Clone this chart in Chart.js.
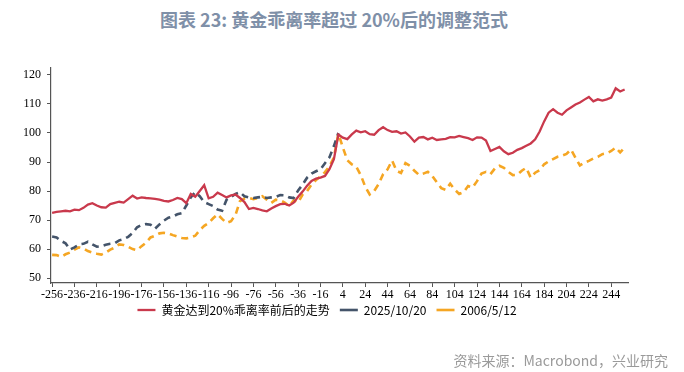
<!DOCTYPE html>
<html>
<head>
<meta charset="utf-8">
<script src="https://cdn.jsdelivr.net/npm/chart.js@4.4.0/dist/chart.umd.min.js"></script>
<style>
    body { margin: 0; background: #fff; width: 684px; height: 372px; position: relative; overflow: hidden; font-family: "Noto Sans CJK SC", sans-serif; }
    #titulo { position: absolute; top: 6px; left: 0; width: 668px; text-align: center; font-size: 18px; font-weight: bold; color: #7f90a8; }
    #fonte { position: absolute; right: 16px; top: 350px; font-size: 14px; color: #9a9a9a; }
    canvas { position: absolute; left: 0; top: 0; }
</style>
</head>
<body>
<div id="titulo">图表 23: 黄金乖离率超过 20%后的调整范式</div>
<canvas id="graficoOuro" width="684" height="372"></canvas>
<div id="fonte">资料来源：Macrobond，兴业研究</div>
<script>
// dias relativos ao ponto de 20% (passo de 4)
var dias = [];
for (var d = -256; d <= 256; d += 4) dias.push(d);

var rotulosX = [-256, -236, -216, -196, -176, -156, -136, -116, -96, -76, -56, -36, -16, 4, 24, 44, 64, 84, 104, 124, 144, 164, 184, 204, 224, 244];
var rotulosY = [50, 60, 70, 80, 90, 100, 110, 120];

var nomes = ["黄金达到20%乖离率前后的走势", "2025/10/20", "2006/5/12"];

// serie vermelha: -256 .. 256
var media = [
    72.5, 72.8, 73.0, 73.2, 73.0, 73.6, 73.4, 74.2, 75.3, 75.8, 75.0, 74.4, 74.3, 75.5, 75.9, 76.3,
    76.0, 77.2, 78.4, 77.4, 77.8, 77.6, 77.5, 77.3, 77.0, 76.6, 76.4, 76.9, 77.6, 77.2, 75.8, 79.0,
    78.0, 80.0, 82.0, 77.5, 78.0, 79.4, 78.6, 77.8, 78.5, 78.8, 77.6, 76.2, 73.8, 74.2, 73.8, 73.3,
    73.0, 74.0, 74.8, 75.5, 75.6, 75.0, 76.0, 78.0, 79.8, 81.8, 83.5, 84.3, 84.6, 85.2, 87.5, 91.0,
    99.5,
    98.4, 97.9, 99.5, 100.8, 100.2, 100.6, 99.6, 99.4, 101.0, 102.0, 101.0, 100.4, 100.6, 99.8, 100.2, 98.8,
    97.0, 98.4, 98.6, 97.8, 98.4, 97.6, 97.8, 98.0, 98.6, 98.5, 99.0, 98.6, 98.2, 97.6, 98.5, 98.4,
    97.4, 93.8, 94.5, 95.2, 93.7, 92.7, 93.2, 94.2, 94.8, 95.6, 96.4, 97.8, 100.5, 104.0, 107.0, 108.2,
    107.0, 106.3, 107.8, 108.8, 109.8, 110.5, 111.5, 112.4, 110.9, 111.6, 111.2, 111.6, 112.2, 115.4, 114.3, 115.0
];

// serie 2025/10/20: -256 .. 0
var serie2025 = [
    64.3, 64.0, 62.8, 62.0, 59.8, 60.6, 61.6, 61.8, 62.5, 61.6, 60.8, 61.0, 61.5, 61.8, 62.0, 63.0,
    63.4, 64.2, 65.5, 67.5, 68.3, 68.6, 68.4, 67.0, 68.5, 69.8, 70.8, 71.2, 72.0, 72.4, 75.0, 77.8,
    79.6, 78.2, 76.2, 75.5, 74.8, 73.6, 73.2, 77.0, 78.0, 79.0, 79.6, 78.2, 77.8, 77.6, 77.8, 78.0,
    77.6, 77.8, 78.0, 78.6, 78.5, 77.8, 77.6, 80.2, 82.2, 84.6, 86.0, 86.8, 87.5, 89.6, 91.6, 95.5,
    100
];

// serie 2006/5/12: -256 .. 256
var serie2006 = [
    58.0, 57.9, 57.3, 58.2, 58.8, 59.8, 60.6, 60.2, 59.3, 58.8, 58.4, 58.1, 58.8, 59.8, 60.5, 61.6,
    61.4, 60.8, 60.0, 59.6, 61.0, 62.2, 64.0, 64.6, 65.4, 65.6, 65.4, 64.8, 64.3, 63.8, 63.7, 64.0,
    64.6, 66.5, 68.0, 69.0, 70.6, 72.0, 70.4, 69.0, 69.6, 71.8, 76.5, 77.4, 77.6, 77.2, 77.6, 78.2,
    77.0, 75.9, 77.0, 76.8, 76.0, 74.8, 76.8, 76.0, 78.8, 80.0, 82.3, 83.8, 85.0, 86.5, 88.5, 91.6,
    99.8,
    95.0, 90.6, 89.2, 88.4, 85.5, 81.5, 78.8, 80.0, 82.4, 85.8, 87.5, 90.5, 87.0, 86.2, 89.6, 88.7,
    87.0, 85.6, 86.0, 86.6, 85.2, 83.0, 81.0, 80.4, 82.5, 80.5, 79.0, 79.6, 81.7, 81.2, 83.4, 86.0,
    86.6, 85.8, 87.8, 88.7, 88.0, 86.6, 85.5, 85.6, 87.0, 88.0, 84.6, 86.3, 87.2, 89.2, 90.2, 91.0,
    91.8, 92.2, 92.8, 94.3, 91.5, 88.8, 89.8, 90.4, 91.2, 91.8, 92.7, 93.0, 93.8, 95.0, 93.3, 95.0
];

function Pontos(valores) {
    var pts = [];
    for (var i = 0; i < valores.length; i++) {
        pts.push({ x: dias[i], y: valores[i] });
    }
    return pts;
}

// desloca a legenda para a posicao do original
var moverLegenda = {
    id: 'moverLegenda',
    afterLayout: function (chart) {
        var lg = chart.legend;
        lg.left += 13; lg.right += 13;
        lg.top -= 11; lg.bottom -= 11;
    }
};

var fonteSerif = 'Times New Roman, "Liberation Serif", serif';

var ctx = document.getElementById('graficoOuro').getContext('2d');

var grafico = new Chart(ctx, {
    type: 'line',
    data: {
        datasets: [
            {
                label: nomes[0],
                data: Pontos(media),
                borderColor: '#c9394c',
                backgroundColor: '#c9394c',
                borderWidth: 2.3,
                pointRadius: 0
            },
            {
                label: nomes[1],
                data: Pontos(serie2025),
                borderColor: '#44546a',
                backgroundColor: '#44546a',
                borderWidth: 2.6,
                borderDash: [7, 5],
                pointRadius: 0
            },
            {
                label: nomes[2],
                data: Pontos(serie2006),
                borderColor: '#f5a623',
                backgroundColor: '#f5a623',
                borderWidth: 2.6,
                borderDash: [7, 5],
                pointRadius: 0
            }
        ]
    },
    plugins: [moverLegenda],
    options: {
        responsive: false,
        animation: false,
        layout: { padding: { left: 0, right: 56, top: 68, bottom: 35 } },
        plugins: {
            title: { display: false },
            tooltip: { enabled: false },
            legend: {
                position: 'bottom',
                labels: {
                    usePointStyle: true,
                    pointStyle: 'line',
                    pointStyleWidth: 18,
                    boxWidth: 18,
                    boxHeight: 12,
                    padding: 10,
                    color: '#000',
                    font: { family: '"Noto Sans CJK SC", sans-serif', size: 12 }
                }
            }
        },
        scales: {
            x: {
                type: 'linear',
                min: -257,
                max: 259,
                afterBuildTicks: function (escala) {
                    escala.ticks = rotulosX.map(function (v) { return { value: v }; });
                },
                afterFit: function (escala) { escala.height = 22; },
                grid: { drawOnChartArea: false, tickLength: 4, color: '#555' },
                border: { display: true, color: '#555', width: 1.2 },
                ticks: {
                    autoSkip: false,
                    maxRotation: 0,
                    minRotation: 0,
                    padding: 1,
                    color: '#000',
                    font: { family: fonteSerif, size: 12 }
                }
            },
            y: {
                min: 48.3,
                max: 122.4,
                afterBuildTicks: function (escala) {
                    escala.ticks = rotulosY.map(function (v) { return { value: v }; });
                },
                afterFit: function (escala) { escala.width = 51; },
                grid: { drawOnChartArea: false, tickLength: 4, color: '#555' },
                border: { display: true, color: '#555', width: 1.2 },
                ticks: {
                    padding: 6,
                    color: '#000',
                    font: { family: fonteSerif, size: 12 }
                }
            }
        }
    }
});
</script>
</body>
</html>
